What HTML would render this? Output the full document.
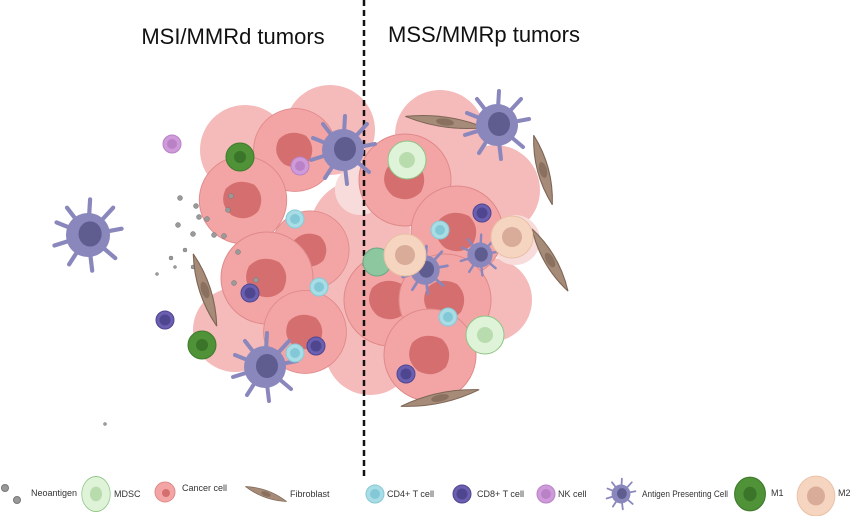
<!DOCTYPE html>
<html><head><meta charset="utf-8"><style>
html,body{margin:0;padding:0;background:#fff}
svg{display:block}
text{font-family:"Liberation Sans",sans-serif}
</style></head><body>
<svg width="850" height="516" viewBox="0 0 850 516" xmlns="http://www.w3.org/2000/svg">
<defs>
<g id="apc">
  <g stroke="#8a87bd" stroke-width="4" stroke-linecap="round">
    <line x1="0" y1="0" x2="-30" y2="-12"/><line x1="0" y1="0" x2="-20" y2="-26"/>
    <line x1="0" y1="0" x2="2" y2="-34"/><line x1="0" y1="0" x2="24" y2="-26"/>
    <line x1="0" y1="0" x2="32" y2="-6"/><line x1="0" y1="0" x2="26" y2="22"/>
    <line x1="0" y1="0" x2="4" y2="34"/><line x1="0" y1="0" x2="-18" y2="28"/>
    <line x1="0" y1="0" x2="-32" y2="10"/>
  </g>
  <circle r="21" fill="#8a87bd"/>
  <ellipse cx="2" cy="-1" rx="11" ry="12" fill="#5f5c8f"/>
</g>
<g id="cd4"><circle r="9" fill="#a9dde6" stroke="#86c9d6"/><circle r="5" fill="#82c8d6"/></g>
<g id="cd8"><circle r="9" fill="#6a5fb0" stroke="#4f4690"/><circle r="5.5" fill="#4f4690"/></g>
<g id="nk"><circle r="9" fill="#cf9ad9" stroke="#b982c6"/><circle r="5" fill="#b982c6"/></g>
<g id="m1"><circle r="14" fill="#4f9238" stroke="#3f7a2c"/><circle r="6" fill="#3b7529"/></g>
<g id="mdsc"><circle r="19" fill="#dff3d8" stroke="#8fc486"/><circle r="8" fill="#b9dcae"/></g>
<g id="m2"><circle r="21" fill="#f6d5c0" stroke="#e9bfa5"/><circle r="10" fill="#d9ab99"/></g>
<g id="fib"><path d="M-40,0 Q0,-10 40,0 Q0,10 -40,0Z" fill="#a58b78" stroke="#7d6555"/><ellipse rx="9" ry="3.5" fill="#8a705f"/></g>
<g id="cc"><circle r="46" fill="#f3a5a5" stroke="#e08989"/><path d="M-18,-12 Q-6,-24 12,-16 Q24,-4 16,12 Q4,24 -12,16 Q-26,4 -18,-12Z" fill="#d56f6f"/></g>
</defs>

<text x="233" y="44" font-size="22" text-anchor="middle" fill="#111">MSI/MMRd tumors</text>
<text x="484" y="42" font-size="22" text-anchor="middle" fill="#111">MSS/MMRp tumors</text>

<g fill="#f5baba">
<circle cx="245" cy="150" r="45"/><circle cx="330" cy="130" r="45"/><circle cx="440" cy="135" r="45"/>
<circle cx="495" cy="190" r="45"/><circle cx="490" cy="300" r="42"/><circle cx="360" cy="230" r="50"/>
<circle cx="235" cy="330" r="42"/><circle cx="370" cy="350" r="45"/><circle cx="350" cy="300" r="40"/>
</g>
<g fill="#f8dcdc"><circle cx="515" cy="240" r="25"/><circle cx="360" cy="190" r="25"/></g>

<use href="#cc" transform="translate(295,150) scale(0.9)"/>
<use href="#cc" transform="translate(243,200) scale(0.95)"/>
<use href="#cc" transform="translate(310,250) scale(0.85)"/>
<use href="#cc" transform="translate(267,278)"/>
<use href="#cc" transform="translate(305,332) scale(0.9)"/>
<use href="#cc" transform="translate(405,180)"/>
<use href="#cc" transform="translate(390,300)"/>
<use href="#cc" transform="translate(457,232)"/>
<use href="#cc" transform="translate(445,300)"/>
<use href="#cc" transform="translate(430,355)"/>

<line x1="364" y1="0" x2="364" y2="478" stroke="#111" stroke-width="2.5" stroke-dasharray="6,4"/>

<g fill="#9a9a9a" stroke="#777" stroke-width="0.5">
<circle cx="180" cy="198" r="2.5"/><circle cx="196" cy="206" r="2.5"/><circle cx="207" cy="219" r="2.5"/><circle cx="178" cy="225" r="2.5"/>
<circle cx="199" cy="217" r="2.5"/><circle cx="214" cy="235" r="2.5"/><circle cx="193" cy="234" r="2.5"/><circle cx="228" cy="210" r="2.5"/>
<circle cx="231" cy="196" r="2.5"/><circle cx="224" cy="236" r="2.5"/><circle cx="185" cy="250" r="2"/><circle cx="171" cy="258" r="2"/>
<circle cx="193" cy="267" r="2"/><circle cx="234" cy="283" r="2.5"/><circle cx="238" cy="252" r="2.5"/><circle cx="256" cy="280" r="2.5"/>
<circle cx="157" cy="274" r="1.5"/><circle cx="105" cy="424" r="1.5"/><circle cx="175" cy="267" r="1.5"/>
</g>

<use href="#fib" transform="translate(205,290) rotate(72) scale(0.95,1.1)"/>
<use href="#fib" transform="translate(445,122) rotate(8)"/>
<use href="#fib" transform="translate(543,170) rotate(75) scale(0.9,1.1)"/>
<use href="#fib" transform="translate(550,260) rotate(60) scale(0.9,1.1)"/>
<use href="#fib" transform="translate(440,398) rotate(-12)"/>

<use href="#apc" transform="translate(88,235) scale(1.05)"/>
<use href="#apc" transform="translate(343,150)"/>
<use href="#apc" transform="translate(497,125)"/>
<use href="#apc" transform="translate(265,367)"/>
<use href="#apc" transform="translate(425,270) scale(0.7)"/>
<use href="#apc" transform="translate(480,255) scale(0.6)"/>

<use href="#m1" transform="translate(240,157)"/><use href="#m1" transform="translate(202,345)"/>
<use href="#nk" transform="translate(172,144)"/><use href="#nk" transform="translate(300,166)"/>
<use href="#cd8" transform="translate(165,320)"/><use href="#cd8" transform="translate(250,293)"/><use href="#cd8" transform="translate(316,346)"/><use href="#cd8" transform="translate(482,213)"/><use href="#cd8" transform="translate(406,374)"/>
<use href="#cd4" transform="translate(295,219)"/><use href="#cd4" transform="translate(319,287)"/><use href="#cd4" transform="translate(295,353)"/><use href="#cd4" transform="translate(440,230)"/><use href="#cd4" transform="translate(448,317)"/>
<circle cx="377" cy="262" r="14" fill="#8cc7a0" stroke="#6aa985"/>
<use href="#mdsc" transform="translate(407,160)"/><use href="#mdsc" transform="translate(485,335)"/>
<use href="#m2" transform="translate(405,255)"/><use href="#m2" transform="translate(512,237)"/>

<g font-size="9" fill="#333">
<circle cx="5" cy="488" r="3.5" fill="#999" stroke="#777"/><circle cx="17" cy="500" r="3.5" fill="#999" stroke="#777"/>
<text x="31" y="496">Neoantigen</text>
<use href="#mdsc" transform="translate(96,494) scale(0.75,0.92)"/>
<text x="114" y="497">MDSC</text>
<circle cx="165" cy="492" r="10" fill="#f3a5a5" stroke="#e08989"/><circle cx="166" cy="493" r="4" fill="#d56f6f"/>
<text x="182" y="491">Cancer cell</text>
<use href="#fib" transform="translate(266,494) rotate(20) scale(0.55,0.7)"/>
<text x="290" y="497">Fibroblast</text>
<use href="#cd4" transform="translate(375,494)"/>
<text x="387" y="497">CD4+ T cell</text>
<use href="#cd8" transform="translate(462,494)"/>
<text x="477" y="497">CD8+ T cell</text>
<use href="#nk" transform="translate(546,494)"/>
<text x="558" y="497">NK cell</text>
<use href="#apc" transform="translate(621,494) scale(0.45)"/>
<text x="642" y="497" textLength="86" lengthAdjust="spacingAndGlyphs">Antigen Presenting Cell</text>
<use href="#m1" transform="translate(750,494) scale(1.1,1.2)"/>
<text x="771" y="496">M1</text>
<use href="#m2" transform="translate(816,496) scale(0.9,0.95)"/>
<text x="838" y="496">M2</text>
</g>
</svg>
</body></html>
